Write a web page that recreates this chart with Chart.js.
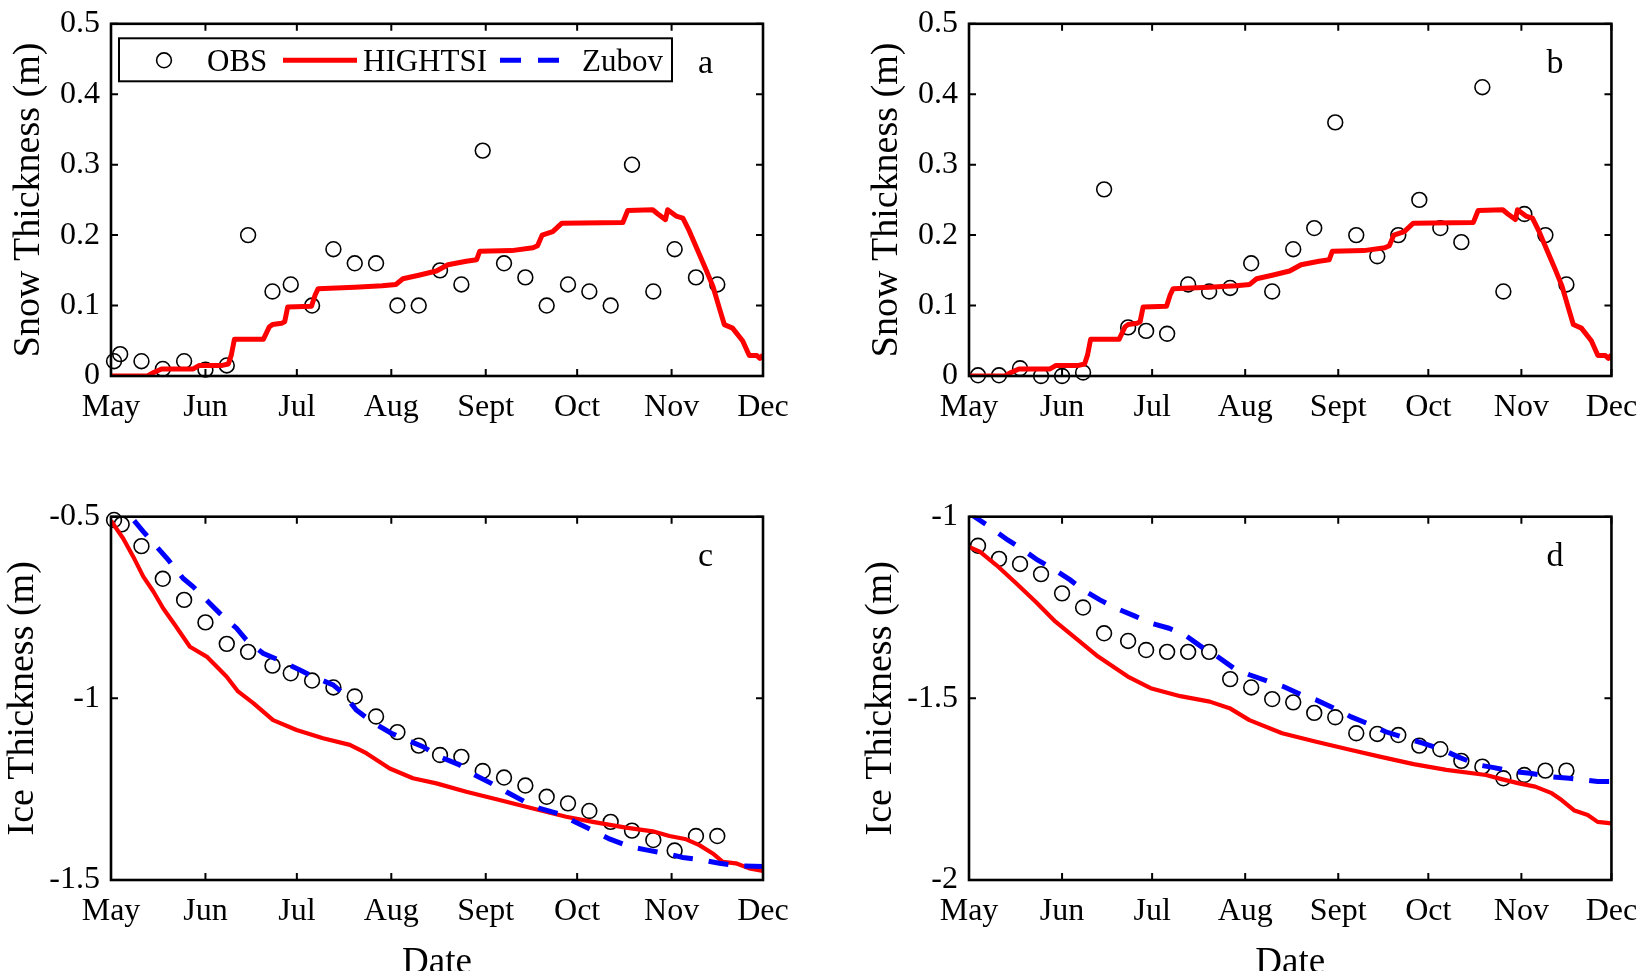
<!DOCTYPE html>
<html><head><meta charset="utf-8">
<script src="https://cdn.jsdelivr.net/npm/chart.js@4.4.0/dist/chart.umd.min.js"></script>
<style>
html,body{margin:0;padding:0;background:#fff;overflow:hidden;width:1650px;height:971px}
canvas{position:absolute;left:0;top:0}
</style></head>
<body>
<canvas id="ca" width="1650" height="971"></canvas>
<canvas id="cb" width="1650" height="971"></canvas>
<canvas id="cc" width="1650" height="971"></canvas>
<canvas id="cd" width="1650" height="971"></canvas>
<script>
// ---- tick definitions (days since 1 May) ----
const monthTicks = [0, 31, 61, 92, 123, 153, 184, 214];
const monthLabels = ['May', 'Jun', 'Jul', 'Aug', 'Sept', 'Oct', 'Nov', 'Dec'];
const snowTicks = [0, 0.1, 0.2, 0.3, 0.4, 0.5];
const snowTickLabels = ['0', '0.1', '0.2', '0.3', '0.4', '0.5'];
const iceTicksC = [-1.5, -1, -0.5];
const iceTickLabelsC = ['-1.5', '-1', '-0.5'];
const iceTicksD = [-2, -1.5, -1];
const iceTickLabelsD = ['-2', '-1.5', '-1'];

// ---- panel a: snow, site 1 ----
const obsDaysA = [1, 3, 10, 17, 24, 31, 38, 45, 53, 59, 66, 73, 80, 87, 94, 101, 108, 115, 122, 129, 136, 143, 150, 157, 164, 171, 178, 185, 192, 199];
const obsSnowA = [0.021, 0.031, 0.021, 0.010, 0.021, 0.009, 0.015, 0.200, 0.120, 0.130, 0.100, 0.180, 0.160, 0.160, 0.100, 0.100, 0.150, 0.130, 0.320, 0.160, 0.140, 0.100, 0.130, 0.120, 0.100, 0.300, 0.120, 0.180, 0.140, 0.130];

// ---- panel b: snow, site 2 ----
const obsDaysB = [3, 10, 17, 24, 31, 38, 45, 53, 59, 66, 73, 80, 87, 94, 101, 108, 115, 122, 129, 136, 143, 150, 157, 164, 171, 178, 185, 192, 199];
const obsSnowB = [0.001, 0.001, 0.011, 0, 0, 0.005, 0.265, 0.069, 0.064, 0.060, 0.130, 0.120, 0.125, 0.160, 0.120, 0.180, 0.210, 0.360, 0.200, 0.170, 0.200, 0.250, 0.210, 0.190, 0.410, 0.120, 0.230, 0.200, 0.130];

// ---- HIGHTSI snow (same in a and b) ----
const snowModelDays = [0, 12, 14, 16.6, 27, 29, 36.5, 38.5, 39.5, 40.5, 50, 52, 53, 56, 57, 58, 65.8, 67, 68, 80, 89, 93.5, 95.8, 101, 106.8, 110.6, 116.6, 120, 121, 131.5, 138.5, 140, 141.5, 145, 148, 168, 169.6, 177.8, 179.5, 182, 182.7, 185.5, 187.7, 189.8, 193, 195.3, 197.5, 199.7, 201.3, 204, 207.3, 209.5, 212, 213, 214];
const snowModelVals = [0, 0, 0.005, 0.01, 0.01, 0.015, 0.015, 0.017, 0.03, 0.052, 0.052, 0.07, 0.073, 0.075, 0.077, 0.098, 0.099, 0.115, 0.124, 0.126, 0.128, 0.13, 0.138, 0.143, 0.149, 0.158, 0.163, 0.165, 0.177, 0.178, 0.182, 0.185, 0.2, 0.205, 0.217, 0.218, 0.235, 0.236, 0.23, 0.222, 0.236, 0.227, 0.224, 0.206, 0.174, 0.151, 0.128, 0.096, 0.073, 0.068, 0.05, 0.029, 0.029, 0.025, 0.03];

// ---- panel c: ice, site 1 ----
const obsDaysC = [1, 3.5, 10, 17, 24, 31, 38, 45, 53, 59, 66, 73, 80, 87, 94, 101, 108, 115, 122, 129, 136, 143, 150, 157, 164, 171, 178, 185, 192, 199];
const obsIceC = [-0.509, -0.521, -0.581, -0.671, -0.729, -0.791, -0.850, -0.872, -0.910, -0.931, -0.951, -0.970, -0.995, -1.050, -1.093, -1.130, -1.156, -1.161, -1.200, -1.218, -1.240, -1.271, -1.289, -1.310, -1.340, -1.364, -1.390, -1.419, -1.379, -1.379];
const hightsiDaysC = [0, 4, 7.3, 10.6, 13.9, 17.1, 21, 25.9, 31.4, 37.9, 41.7, 46.7, 53.2, 60.9, 69.6, 78.4, 83.8, 91.5, 99.1, 106.8, 116.6, 127.5, 138.5, 149.4, 158.1, 169, 177.8, 183.3, 188.8, 193.1, 197.5, 200.8, 205.1, 209.5, 214];
const hightsiIceC = [-0.511, -0.560, -0.610, -0.665, -0.706, -0.752, -0.798, -0.858, -0.885, -0.940, -0.981, -1.013, -1.060, -1.087, -1.110, -1.128, -1.151, -1.193, -1.220, -1.234, -1.257, -1.280, -1.303, -1.326, -1.340, -1.356, -1.366, -1.379, -1.388, -1.404, -1.427, -1.450, -1.454, -1.468, -1.475];
const zubovDaysC = [0, 6.8, 10.6, 18.8, 23.7, 27, 31.9, 35.7, 41.2, 44.4, 49.9, 54.9, 62, 66.3, 72.9, 76.2, 80.5, 85.5, 92, 95.8, 102.4, 107.9, 114.4, 118.3, 124.8, 129.7, 135.7, 140.7, 147.2, 152.7, 158.4, 163.6, 170.2, 175.6, 182.2, 187.7, 194.2, 199.7, 206.2, 214];
const zubovIceC = [-0.435, -0.503, -0.541, -0.619, -0.670, -0.693, -0.734, -0.766, -0.807, -0.839, -0.876, -0.894, -0.922, -0.940, -0.963, -0.986, -1.032, -1.064, -1.096, -1.110, -1.133, -1.161, -1.183, -1.206, -1.234, -1.257, -1.284, -1.303, -1.318, -1.342, -1.365, -1.387, -1.408, -1.417, -1.427, -1.438, -1.445, -1.454, -1.461, -1.463];

// ---- panel d: ice, site 2 ----
const obsDaysD = [3, 10, 17, 24, 31, 38, 45, 53, 59, 66, 73, 80, 87, 94, 101, 108, 115, 122, 129, 136, 143, 150, 157, 164, 171, 178, 185, 192, 199];
const obsIceD = [-1.080, -1.116, -1.130, -1.158, -1.211, -1.250, -1.321, -1.342, -1.367, -1.372, -1.372, -1.372, -1.447, -1.470, -1.502, -1.511, -1.540, -1.552, -1.596, -1.598, -1.601, -1.630, -1.640, -1.672, -1.688, -1.720, -1.711, -1.699, -1.699];
const hightsiDaysD = [0, 3.6, 9.1, 15.7, 22.2, 28.8, 34.3, 43, 52.9, 60.5, 70.4, 80.2, 86.8, 93.4, 104.3, 115.3, 126.2, 137.2, 148.1, 159, 172.2, 177.7, 183.2, 188.6, 194.1, 197.4, 201.7, 206.1, 209.4, 214];
const hightsiIceD = [-1.083, -1.096, -1.133, -1.183, -1.234, -1.289, -1.326, -1.385, -1.440, -1.472, -1.494, -1.509, -1.527, -1.560, -1.596, -1.619, -1.640, -1.661, -1.681, -1.697, -1.711, -1.723, -1.734, -1.743, -1.761, -1.780, -1.809, -1.821, -1.840, -1.844];
const zubovDaysD = [0, 6.9, 12.9, 17.3, 22.8, 27.7, 33.7, 38.1, 43.6, 49, 55.1, 60.5, 66.6, 72, 78.1, 82.4, 88.2, 93.4, 99.9, 104.9, 110.9, 115.8, 122.9, 127.3, 133.9, 138.8, 145.9, 151.4, 157.9, 162.9, 169.5, 174.4, 181.5, 186.9, 194.1, 200, 209.4, 214];
const zubovIceD = [-0.99, -1.028, -1.064, -1.087, -1.119, -1.142, -1.174, -1.202, -1.229, -1.252, -1.273, -1.293, -1.307, -1.326, -1.362, -1.383, -1.417, -1.435, -1.454, -1.468, -1.491, -1.505, -1.532, -1.551, -1.573, -1.592, -1.610, -1.624, -1.642, -1.661, -1.683, -1.690, -1.702, -1.706, -1.716, -1.720, -1.729, -1.729];

const legendLabels = ['OBS', 'HIGHTSI', 'Zubov'];

// ---- styling ----
const FONT = '"Liberation Serif", "Times New Roman", serif';
Chart.defaults.font.family = FONT;
Chart.defaults.color = '#000';

const STY = {
  obs: {color: '#000', radius: 7.4, width: 1.6},
  hightsi: {color: '#ff0000', width: 4.2},
  zubov: {color: '#0000ff', width: 5, dash: [20, 16]}
};

const pts = (xs, ys) => xs.map((x, i) => ({x: x, y: ys[i]}));

const framePlugin = {
  id: 'frame',
  afterDraw(chart, args, o) {
    const {ctx, chartArea: a, scales: {x, y}} = chart;
    ctx.save();
    ctx.strokeStyle = '#000';
    ctx.lineWidth = 2;
    ctx.beginPath();
    x.ticks.forEach(t => {
      const px = x.getPixelForValue(t.value);
      ctx.moveTo(px, a.bottom); ctx.lineTo(px, a.bottom - 7);
      ctx.moveTo(px, a.top); ctx.lineTo(px, a.top + 7);
    });
    y.ticks.forEach(t => {
      const py = y.getPixelForValue(t.value);
      ctx.moveTo(a.left, py); ctx.lineTo(a.left + 7, py);
      ctx.moveTo(a.right, py); ctx.lineTo(a.right - 7, py);
    });
    ctx.stroke();
    ctx.lineWidth = 2.6;
    ctx.strokeRect(a.left, a.top, a.right - a.left, a.bottom - a.top);

    // panel letter
    ctx.fillStyle = '#000';
    ctx.textBaseline = 'alphabetic';
    ctx.textAlign = 'left';
    ctx.font = '34px ' + FONT;
    ctx.fillText(o.letter, a.right - 65, a.top + 49);

    if (o.legend) {
      const bx = a.left + 8, by = a.top + 14.5, bw = 553, bh = 43;
      ctx.fillStyle = '#fff';
      ctx.fillRect(bx, by, bw, bh);
      ctx.lineWidth = 2;
      ctx.strokeStyle = '#000';
      ctx.strokeRect(bx, by, bw, bh);
      const cy = by + 22;
      // OBS marker
      ctx.lineWidth = STY.obs.width;
      ctx.beginPath();
      ctx.arc(bx + 45, cy, STY.obs.radius, 0, Math.PI * 2);
      ctx.stroke();
      // HIGHTSI line
      ctx.strokeStyle = STY.hightsi.color;
      ctx.lineWidth = o.redWidth;
      ctx.beginPath(); ctx.moveTo(bx + 164, cy); ctx.lineTo(bx + 238, cy); ctx.stroke();
      // Zubov dashes
      ctx.strokeStyle = STY.zubov.color;
      ctx.lineWidth = STY.zubov.width;
      ctx.setLineDash([21, 17]);
      ctx.beginPath(); ctx.moveTo(bx + 381, cy); ctx.lineTo(bx + 442, cy); ctx.stroke();
      ctx.setLineDash([]);
      // labels
      ctx.fillStyle = '#000';
      ctx.font = '31px ' + FONT;
      ctx.fillText(legendLabels[0], bx + 88, by + 33);
      ctx.fillText(legendLabels[1], bx + 244, by + 33);
      ctx.fillText(legendLabels[2], bx + 463, by + 33);
    }
    ctx.restore();
  }
};

function build(id, p) {
  const datasets = [
    {label: legendLabels[0], data: pts(p.obsX, p.obsY), showLine: false, pointStyle: 'circle',
     pointRadius: STY.obs.radius, pointHoverRadius: STY.obs.radius, borderWidth: STY.obs.width,
     pointBorderWidth: STY.obs.width, borderColor: STY.obs.color, pointBorderColor: STY.obs.color,
     backgroundColor: 'rgba(0,0,0,0)', pointBackgroundColor: 'rgba(0,0,0,0)', order: 3, clip: false},
    {label: legendLabels[1], data: pts(p.modX, p.modY), showLine: true, borderColor: STY.hightsi.color,
     borderWidth: p.redWidth, pointRadius: 0, pointHoverRadius: 0, tension: 0, order: 2,
     borderJoinStyle: 'round'}
  ];
  if (p.zubX) {
    datasets.push({label: legendLabels[2], data: pts(p.zubX, p.zubY), showLine: true, borderColor: STY.zubov.color,
      borderWidth: STY.zubov.width, borderDash: STY.zubov.dash, pointRadius: 0, pointHoverRadius: 0,
      tension: 0, order: 1});
  }
  return new Chart(document.getElementById(id), {
    type: 'scatter',
    data: {datasets: datasets},
    plugins: [framePlugin],
    options: {
      responsive: false,
      animation: false,
      devicePixelRatio: 1,
      events: [],
      layout: {padding: p.pad},
      plugins: {legend: {display: false}, tooltip: {enabled: false},
                frame: {letter: p.letter, legend: p.legend, redWidth: p.redWidth}},
      scales: {
        x: {
          type: 'linear', position: 'bottom', min: 0, max: 214,
          afterBuildTicks: s => { s.ticks = monthTicks.map(v => ({value: v})); },
          afterFit: s => { s.height = p.xH; },
          grid: {display: false, drawTicks: false},
          border: {display: false},
          ticks: {autoSkip: false, maxRotation: 0, padding: 12.8, color: '#000',
                  font: {family: FONT, size: 32, lineHeight: 1.2},
                  callback: (v, i) => monthLabels[i]},
          title: {display: !!p.xTitle, text: p.xTitle || '', color: '#000', padding: {top: 0, bottom: 0},
                  font: {family: FONT, size: 37, lineHeight: 0.4}}
        },
        y: {
          type: 'linear', position: 'left', min: p.yMin, max: p.yMax,
          afterBuildTicks: s => { s.ticks = p.yTicks.map(v => ({value: v})); },
          afterFit: s => { s.width = 111; },
          grid: {display: false, drawTicks: false},
          border: {display: false},
          ticks: {autoSkip: false, padding: 11, color: '#000',
                  font: {family: FONT, size: 32, lineHeight: 0.8},
                  callback: (v, i) => p.yLabels[i]},
          title: {display: true, text: p.yTitle, color: '#000', padding: {top: p.yTitlePad, bottom: 0},
                  font: {family: FONT, size: 38, lineHeight: 1.2}}
        }
      }
    }
  });
}

build('ca', {obsX: obsDaysA, obsY: obsSnowA, modX: snowModelDays, modY: snowModelVals,
  yMin: 0, yMax: 0.5, yTicks: snowTicks, yLabels: snowTickLabels, yTitle: 'Snow Thickness (m)', yTitlePad: 6,
  pad: {left: 0, top: 13.5, right: 887, bottom: 535}, xH: 60, letter: 'a', legend: true, redWidth: 5});
build('cb', {obsX: obsDaysB, obsY: obsSnowB, modX: snowModelDays, modY: snowModelVals,
  yMin: 0, yMax: 0.5, yTicks: snowTicks, yLabels: snowTickLabels, yTitle: 'Snow Thickness (m)', yTitlePad: 6,
  pad: {left: 858, top: 13.5, right: 29, bottom: 535}, xH: 60, letter: 'b', legend: false, redWidth: 5});
build('cc', {obsX: obsDaysC, obsY: obsIceC, modX: hightsiDaysC, modY: hightsiIceC, zubX: zubovDaysC, zubY: zubovIceC,
  yMin: -1.5, yMax: -0.5, yTicks: iceTicksC, yLabels: iceTickLabelsC, yTitle: 'Ice Thickness (m)', yTitlePad: 0,
  pad: {left: 0, top: 516.7, right: 887, bottom: 0}, xH: 91, xTitle: 'Date', letter: 'c', legend: false, redWidth: 4.2});
build('cd', {obsX: obsDaysD, obsY: obsIceD, modX: hightsiDaysD, modY: hightsiIceD, zubX: zubovDaysD, zubY: zubovIceD,
  yMin: -2, yMax: -1, yTicks: iceTicksD, yLabels: iceTickLabelsD, yTitle: 'Ice Thickness (m)', yTitlePad: 0,
  pad: {left: 858, top: 516.7, right: 29, bottom: 0}, xH: 91, xTitle: 'Date', letter: 'd', legend: false, redWidth: 4.2});
</script>
</body></html>
